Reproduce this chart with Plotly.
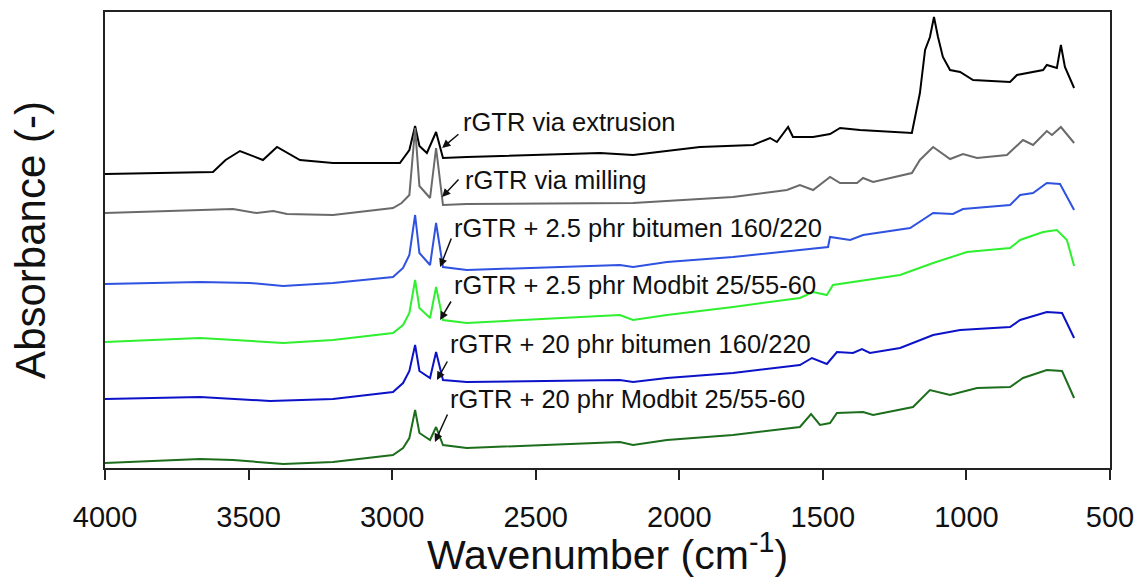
import plotly.graph_objects as go

# ---- data (absorbance in arbitrary, stacked units) ----
series_names = ["rGTR via extrusion", "rGTR via milling", "rGTR + 2.5 phr bitumen 160/220",
                "rGTR + 2.5 phr Modbit 25/55-60", "rGTR + 20 phr bitumen 160/220",
                "rGTR + 20 phr Modbit 25/55-60"]

wn_extrusion = [4000, 3624, 3580, 3530, 3450, 3401, 3321, 3206, 2973, 2962, 2940, 2920, 2905, 2879, 2847, 2823, 2740,
                2276, 2161, 1928, 1743, 1684, 1660, 1621, 1604, 1534, 1475, 1440, 1371, 1190, 1162, 1144, 1127,
                1113, 1099, 1082, 1057, 1022, 977, 848, 824, 733, 720, 685, 671, 657, 625]
ab_extrusion = [294, 296, 308, 317, 308, 321, 308, 305, 305, 309, 318, 342, 322, 315, 336, 310, 311,
                315, 313, 321, 323, 330, 326, 341, 331, 331, 334, 340, 338, 335, 375, 418, 431,
                451, 431, 411, 398, 396, 388, 386, 393, 398, 403, 400, 423, 401, 380]

wn_milling = [4000, 3749, 3554, 3472, 3414, 3366, 3206, 2997, 2967, 2940, 2920, 2905, 2868, 2847, 2823, 2740,
              2276, 2161, 1813, 1625, 1580, 1534, 1475, 1440, 1381, 1360, 1325, 1190, 1162, 1116, 1057,
              1012, 963, 859, 803, 768, 720, 702, 671, 625]
ab_milling = [255, 257, 259, 255, 257, 254, 253, 260, 265, 273, 340, 282, 270, 320, 263, 264,
              265, 265, 271, 278, 283, 278, 291, 285, 285, 290, 286, 295, 308, 321, 309,
              314, 310, 313, 328, 323, 337, 333, 341, 325]

wn_bit25 = [4000, 3669, 3495, 3380, 3206, 2997, 2962, 2940, 2920, 2905, 2868, 2847, 2823, 2740, 2207, 2161,
            2043, 1813, 1580, 1482, 1475, 1405, 1360, 1196, 1116, 1047, 1012, 848, 813, 768, 720, 674, 625]
ab_bit25 = [184, 186, 185, 182, 185, 191, 200, 213, 253, 215, 203, 245, 201, 198, 203, 201,
            206, 211, 218, 221, 231, 228, 233, 240, 255, 254, 259, 263, 273, 275, 285, 284, 258]

wn_mod25 = [4000, 3669, 3380, 3206, 2997, 2962, 2940, 2920, 2905, 2868, 2847, 2823, 2740, 2207, 2161, 2043,
            1813, 1580, 1534, 1486, 1465, 1231, 1116, 998, 848, 813, 733, 685, 650, 625]
ab_mod25 = [126, 130, 125, 128, 135, 143, 155, 188, 160, 150, 181, 148, 145, 153, 148, 153,
            161, 170, 176, 173, 183, 193, 205, 216, 220, 228, 236, 238, 228, 202]

wn_bit20 = [4000, 3669, 3425, 3206, 2997, 2962, 2940, 2920, 2905, 2868, 2847, 2823, 2740, 2207, 2161, 2043,
            1813, 1580, 1538, 1486, 1451, 1395, 1364, 1336, 1231, 1116, 1022, 848, 813, 720, 667, 625]
ab_bit20 = [69, 71, 67, 69, 76, 85, 97, 123, 97, 90, 116, 88, 86, 88, 86, 90,
            95, 103, 110, 104, 116, 115, 119, 115, 120, 133, 138, 141, 148, 156, 155, 130]

wn_mod20 = [4000, 3669, 3554, 3380, 3206, 2997, 2962, 2940, 2920, 2905, 2868, 2847, 2823, 2740, 2207, 2161,
            2043, 1813, 1580, 1541, 1510, 1475, 1451, 1360, 1325, 1186, 1127, 1057, 963, 848, 803, 720,
            667, 625]
ab_mod20 = [5, 9, 8, 4, 6, 13, 20, 30, 58, 35, 28, 41, 23, 20, 26, 23,
            28, 33, 41, 54, 43, 45, 55, 56, 53, 61, 78, 73, 80, 81, 90, 98,
            97, 70]

x_ticks = [4000, 3500, 3000, 2500, 2000, 1500, 1000, 500]

# label text anchor (wavenumber, absorbance) and arrow tail/tip
label_pos = [(2760, 346), (2753, 288), (2792, 240), (2792, 183), (2805, 124), (2805, 69)]
arrow_tail = [(2764, 335), (2764, 290), (2792, 231), (2792, 168), (2805, 108), (2805, 55)]
arrow_tip = [(2826, 320), (2826, 271), (2833, 201), (2833, 148), (2844, 88), (2851, 26)]

colors = ["#000000", "#6a6a6a", "#2f52e0", "#2ef02e", "#0c12c8", "#1c6e1c"]

all_wn = [wn_extrusion, wn_milling, wn_bit25, wn_mod25, wn_bit20, wn_mod20]
all_ab = [ab_extrusion, ab_milling, ab_bit25, ab_mod25, ab_bit20, ab_mod20]

fig = go.Figure()
for name, wn, ab, c in zip(series_names, all_wn, all_ab, colors):
    fig.add_trace(go.Scatter(x=wn, y=ab, mode="lines", name=name,
                             line=dict(color=c, width=2)))

annotations = []
for name, lp, tail, tip in zip(series_names, label_pos, arrow_tail, arrow_tip):
    annotations.append(dict(x=lp[0], y=lp[1], xref="x", yref="y", text=name, showarrow=False,
                            xanchor="left", yanchor="middle",
                            font=dict(family="Liberation Sans, Arial", size=25.5, color="#111111")))
    annotations.append(dict(x=tip[0], y=tip[1], ax=tail[0], ay=tail[1], xref="x", yref="y",
                            axref="x", ayref="y", text="", showarrow=True,
                            arrowhead=2, arrowsize=1.1, arrowwidth=1.5, arrowcolor="#111111"))

fig.update_layout(
    width=1139, height=578,
    margin=dict(l=105, r=29, t=12, b=110, autoexpand=False),
    paper_bgcolor="white", plot_bgcolor="white",
    showlegend=False,
    annotations=annotations,
    font=dict(family="Liberation Sans, Arial", color="#111111"),
)
fig.update_xaxes(range=[4000, 500], tickvals=x_ticks, ticks="outside", ticklen=10, tickwidth=1.5,
                 tickcolor="#222222", showline=True, linecolor="#222222", linewidth=1.5, mirror=True,
                 showgrid=False, zeroline=False, automargin=False, ticklabelstandoff=12,
                 tickfont=dict(family="Liberation Sans, Arial", size=29),
                 title=dict(text="Wavenumber (cm<sup>-1</sup>)", font=dict(size=41), standoff=7))
fig.update_yaxes(range=[0, 456], showticklabels=False, ticks="", showline=True, linecolor="#222222",
                 linewidth=1.5, mirror=True, showgrid=False, zeroline=False, automargin=False,
                 title=dict(text="Absorbance (-)", font=dict(size=42), standoff=45))

fig.write_html("out.html", config={"displayModeBar": False},
               post_script="document.body.style.margin='0px';")
